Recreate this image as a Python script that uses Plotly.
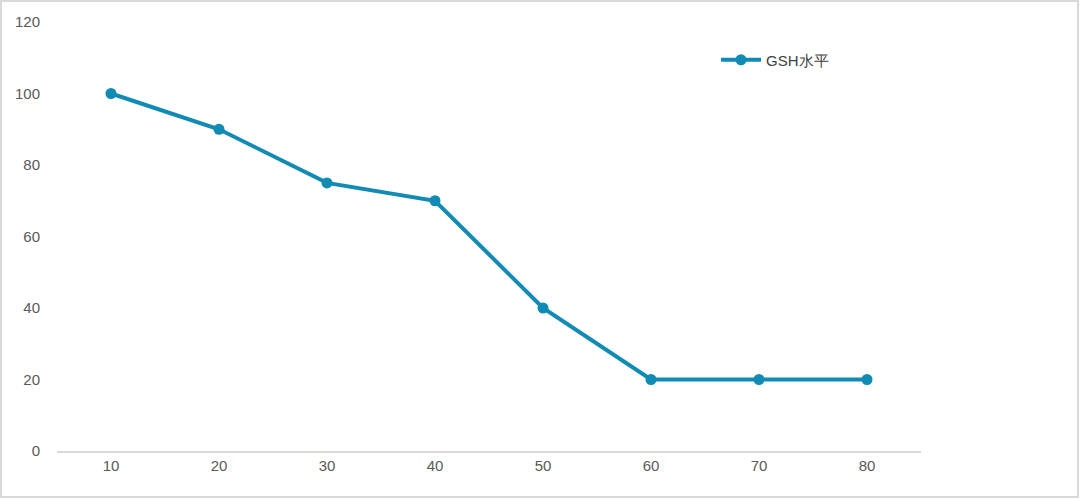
import plotly.graph_objects as go

categories = ["10", "20", "30", "40", "50", "60", "70", "80"]
gsh_values = [100, 90, 75, 70, 40, 20, 20, 20]
y_ticks = [0, 20, 40, 60, 80, 100, 120]

W, H = 1080, 499
L, R, T, B = 57, 159, 22, 48
pw, ph = W - L - R, H - T - B

def px_x(x):
    return (x - L) / pw

def px_y(y):
    return (H - B - y) / ph

color = "#118AB4"

fig = go.Figure()
fig.add_trace(go.Scatter(
    x=categories, y=gsh_values, mode="lines+markers", name="GSH水平",
    line=dict(color=color, width=4),
    marker=dict(color=color, size=11),
))

fig.update_layout(
    width=W, height=H,
    margin=dict(l=L, r=R, t=T, b=B),
    paper_bgcolor="white", plot_bgcolor="white",
    font=dict(family="Liberation Sans, Arial, sans-serif", color="#595959", size=15),
    showlegend=True,
    legend=dict(x=px_x(716), y=px_y(60), xanchor="left", yanchor="middle",
                bgcolor="rgba(0,0,0,0)", font=dict(size=15, color="#404040"),
                itemwidth=40),
    xaxis=dict(type="category", range=[-0.5, len(categories) - 0.5],
               showgrid=False, zeroline=False,
               showline=True, linecolor="#D9D9D9", linewidth=1.5,
               ticks="", tickfont=dict(size=15, color="#595959")),
    yaxis=dict(range=[0, 120], tickvals=y_ticks, showgrid=False, zeroline=False,
               showline=False, ticks="", ticklabelstandoff=16,
               tickfont=dict(size=15, color="#595959")),
    shapes=[dict(type="rect", xref="paper", yref="paper",
                 x0=px_x(1), x1=px_x(1078), y0=px_y(497), y1=px_y(1),
                 line=dict(color="#D9D9D9", width=2), fillcolor="rgba(0,0,0,0)")],
)

fig.write_html("out.html", config={"displayModeBar": False},
               post_script="document.body.style.margin='0';document.body.style.overflow='hidden';")
